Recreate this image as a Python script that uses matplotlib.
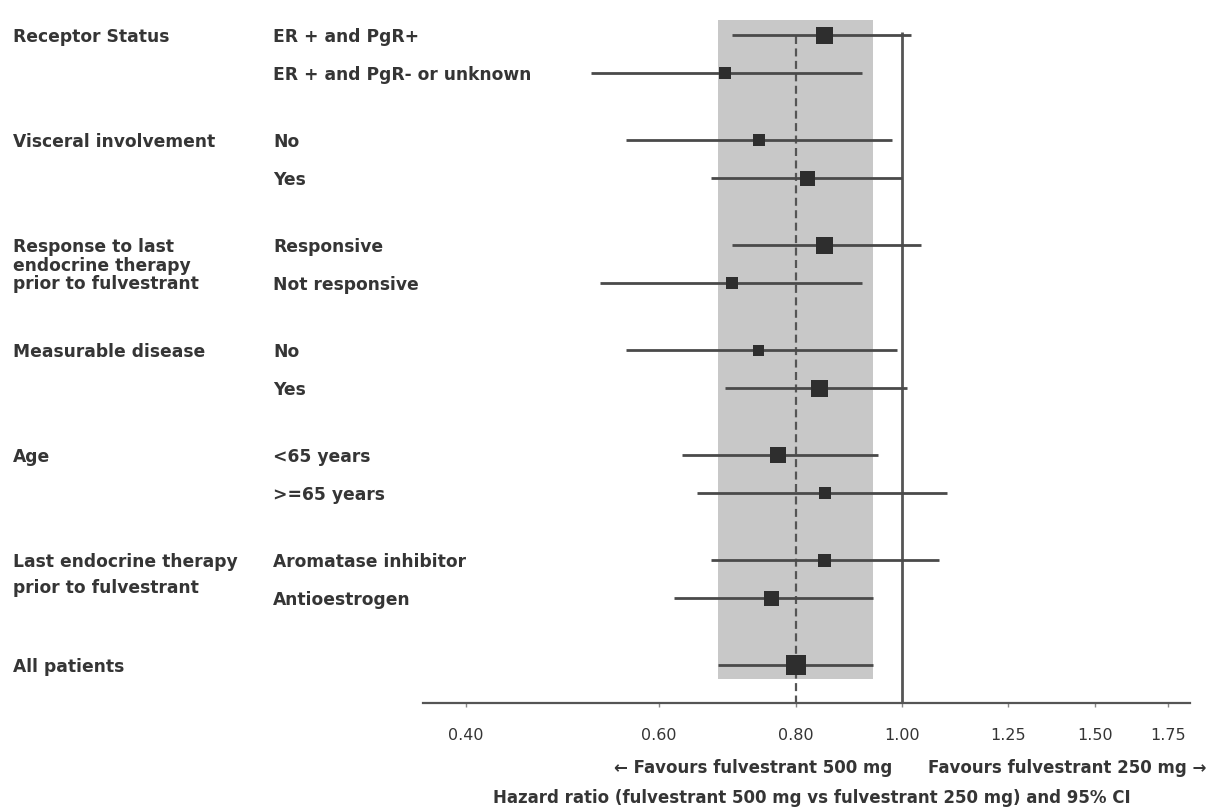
import matplotlib
matplotlib.use("Agg")
import matplotlib.pyplot as plt
import matplotlib.transforms as mtransforms
from matplotlib.ticker import NullLocator, FixedLocator, FixedFormatter

# --- data ---
groups = ["Receptor Status",
          "Visceral involvement",
          "Response to last\nendocrine therapy\nprior to fulvestrant",
          "Measurable disease",
          "Age",
          "Last endocrine therapy\nprior to fulvestrant",
          "All patients"]
subgroups = [["ER + and PgR+", "ER + and PgR- or unknown"],
             ["No", "Yes"],
             ["Responsive", "Not responsive"],
             ["No", "Yes"],
             ["<65 years", ">=65 years"],
             ["Aromatase inhibitor", "Antioestrogen"],
             [""]]
hr = [0.85, 0.69, 0.74, 0.82, 0.85, 0.70, 0.74, 0.84, 0.77, 0.85, 0.85, 0.76, 0.80]
ci_low = [0.70, 0.52, 0.56, 0.67, 0.70, 0.53, 0.56, 0.69, 0.63, 0.65, 0.67, 0.62, 0.68]
ci_high = [1.02, 0.92, 0.98, 1.00, 1.04, 0.92, 0.99, 1.01, 0.95, 1.10, 1.08, 0.94, 0.94]
tick_values = [0.40, 0.60, 0.80, 1.00, 1.25, 1.50, 1.75]

# square side in pixels (weight of each estimate)
box_px = [17, 12, 12, 15, 17, 12, 11, 17, 16, 12, 13, 15, 20]
# spacing between lines of the wrapped group labels, pixels
group_line_px = [0, 0, 18.5, 0, 0, 26, 0]

W, H, DPI = 1222, 811, 100
ROW_PX = 38.2
GAP = 1.75
TEXT = "#353535"
LINE = "#4a4a4a"
LABEL_SIZE = 12.3

# row positions: one unit per row, a bigger gap between groups
ypos = []
group_y = []
y = 0.0
for subs in subgroups:
    group_y.append(y)
    for _ in subs:
        ypos.append(y)
        y += 1
    y += GAP - 1

fig = plt.figure(figsize=(W / DPI, H / DPI), dpi=DPI)
ax = fig.add_axes([423 / W, 1 - 703 / H, (1190 - 423) / W, (703 - 10) / H])
y_bottom = (703 - 35) / ROW_PX
y_top = (10 - 35) / ROW_PX

ax.set_xscale("log")
ax.set_xlim(0.3656, 1.831)
ax.set_ylim(y_bottom, y_top)

# shaded band = CI of all patients
ax.fill_betweenx([ypos[0] - 0.4, ypos[-1] + 0.36], ci_low[-1], ci_high[-1],
                 color="#c8c8c8", lw=0, zorder=0)

# reference lines
ax.plot([1.0, 1.0], [ypos[0] - 0.08, y_bottom], color="#555555", lw=2.0,
        solid_capstyle="butt", zorder=1)
ax.plot([hr[-1], hr[-1]], [ypos[0] + 0.03, y_bottom], color="#555555", lw=1.6,
        dashes=(3.6, 2.0), zorder=1)

# CIs and point estimates
ax.hlines(ypos, ci_low, ci_high, color=LINE, lw=2.0, zorder=2)
ax.scatter(hr, ypos, marker="s", s=[(p * 72 / DPI) ** 2 for p in box_px],
           color="#2e2e2e", linewidths=0, zorder=3)

for side in ["top", "left", "right"]:
    ax.spines[side].set_visible(False)
ax.spines["bottom"].set_color("#555555")
ax.spines["bottom"].set_linewidth(1.6)
ax.set_yticks([])
ax.xaxis.set_major_locator(FixedLocator(tick_values))
ax.xaxis.set_major_formatter(FixedFormatter([f"{v:.2f}" for v in tick_values]))
ax.xaxis.set_minor_locator(NullLocator())
ax.tick_params(axis="x", direction="out", length=3, width=1, color="#888888",
               pad=15, labelsize=11.5, labelcolor=TEXT)

# row labels
trans = mtransforms.blended_transform_factory(fig.transFigure, ax.transData)
i = 0
for g, name in enumerate(groups):
    for k, line in enumerate(name.split("\n")):
        ax.text(13 / W, group_y[g] + k * group_line_px[g] / ROW_PX, line,
                transform=trans, ha="left", va="center_baseline",
                fontsize=LABEL_SIZE, fontweight="bold", color=TEXT)
    for sub in subgroups[g]:
        ax.text(273 / W, ypos[i], sub, transform=trans, ha="left",
                va="center_baseline", fontsize=LABEL_SIZE, fontweight="bold",
                color=TEXT)
        i += 1

fig.text(892 / W, 1 - 768 / H, "\u2190 Favours fulvestrant 500 mg", ha="right",
         va="center", fontsize=12, fontweight="bold", color=TEXT)
fig.text(928 / W, 1 - 768 / H, "Favours fulvestrant 250 mg \u2192", ha="left",
         va="center", fontsize=12, fontweight="bold", color=TEXT)
fig.text(812 / W, 1 - 798 / H,
         "Hazard ratio (fulvestrant 500 mg vs fulvestrant 250 mg) and 95% CI",
         ha="center", va="center", fontsize=12, fontweight="bold", color=TEXT)

fig.savefig("out.png", dpi=DPI)
